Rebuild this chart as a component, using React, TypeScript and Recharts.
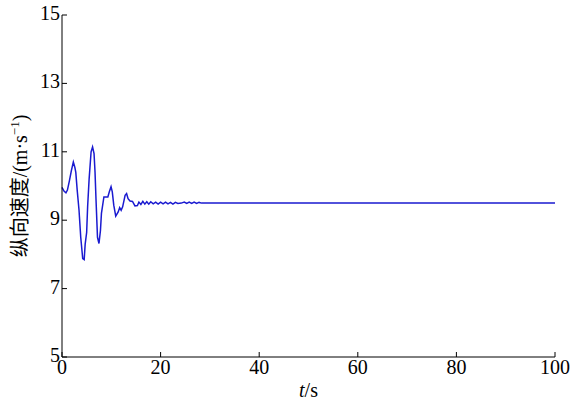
import React from "react";
import { LineChart, Line, XAxis, YAxis } from "recharts";

const timeSeconds: number[] = [
  0, 0.4, 0.8, 1.1, 1.5, 1.9, 2.3, 2.6, 2.8, 3.1, 3.45, 3.8, 4.2, 4.5, 4.7, 5.0, 5.2, 5.5, 5.9, 6.2,
  6.5, 6.7, 6.9, 7.2, 7.5, 7.8, 8.0, 8.5, 9.3, 9.6, 9.95, 10.2, 10.5, 10.9, 11.4, 11.7, 12.0, 12.3,
  12.8, 13.1, 13.4, 13.8, 14.3, 14.8, 15.3, 15.6, 16.0, 16.4, 16.8, 17.2, 17.6, 18.0, 18.5, 19.0,
  19.5, 20.0, 20.5, 21.0, 21.5, 22.0, 22.5, 23.0, 23.5, 24.2, 24.8, 25.3, 25.8, 26.3, 26.8, 27.3,
  27.8, 28.3, 100,
];

const speedValues: number[] = [
  9.96, 9.85, 9.8, 9.88, 10.15, 10.45, 10.7, 10.55, 10.4, 9.85, 9.3, 8.5, 7.88, 7.85, 8.3, 8.64, 9.4,
  10.2, 11.0, 11.14, 10.95, 10.4, 9.6, 8.5, 8.32, 8.7, 9.2, 9.68, 9.68, 9.83, 9.98, 9.83, 9.44, 9.12,
  9.24, 9.37, 9.29, 9.39, 9.73, 9.78, 9.63, 9.56, 9.55, 9.42, 9.43, 9.53, 9.46, 9.55, 9.47, 9.54,
  9.47, 9.54, 9.48, 9.53, 9.47, 9.53, 9.48, 9.53, 9.48, 9.52, 9.47, 9.52, 9.49, 9.5, 9.53, 9.49,
  9.53, 9.49, 9.53, 9.49, 9.52, 9.5, 9.5,
];

const xTicks: number[] = [0, 20, 40, 60, 80, 100];
const yTicks: number[] = [5, 7, 9, 11, 13, 15];

const data = timeSeconds.map((t, i) => ({ t, v: speedValues[i] }));

const FONT = "'Liberation Serif', 'Times New Roman', serif";
const CJK = "'Liberation Serif', 'Noto Sans CJK SC', serif";

const XTick = (props: any) => {
  const { x, y, payload } = props;
  return (
    <g>
      <line x1={x} x2={x} y1={y} y2={y - 5} stroke="#000" strokeWidth={1} />
      <text x={x} y={y + 17} textAnchor="middle" fontFamily={FONT} fontSize={20} fill="#000">
        {payload.value}
      </text>
    </g>
  );
};

const YTick = (props: any) => {
  const { x, y, payload } = props;
  return (
    <g>
      <line x1={x} x2={x + 5} y1={y} y2={y} stroke="#000" strokeWidth={1} />
      <text x={x - 2} y={y + 5} textAnchor="end" fontFamily={FONT} fontSize={20} fill="#000">
        {payload.value}
      </text>
    </g>
  );
};

const YLabel = (props: any) => {
  const vb = props.viewBox || {};
  const cy = (vb.y ?? 15) + (vb.height ?? 342) / 2;
  const cx = 27;
  return (
    <text
      x={cx}
      y={cy}
      transform={`rotate(-90, ${cx}, ${cy})`}
      textAnchor="middle"
      fontFamily={CJK}
      fontSize={20}
      fill="#000"
    >
      纵向速度/(m·s
      <tspan dy={-8} fontSize={13}>
        −1
      </tspan>
      <tspan dy={8}>)</tspan>
    </text>
  );
};

const XLabel = (props: any) => {
  const vb = props.viewBox || {};
  const cx = (vb.x ?? 62) + (vb.width ?? 493) / 2;
  return (
    <text x={cx} y={397} textAnchor="middle" fontFamily={FONT} fontSize={20} fill="#000">
      <tspan fontStyle="italic">t</tspan>/s
    </text>
  );
};

export default function App() {
  return (
    <div style={{ position: "absolute", left: 0, top: 0, width: 573, height: 401, background: "#fff" }}>
      <LineChart width={573} height={401} data={data} margin={{ top: 15, right: 18, left: 0, bottom: 0 }}>
        <XAxis
          dataKey="t"
          type="number"
          domain={[0, 100]}
          ticks={xTicks}
          height={44}
          tickSize={0}
          tickMargin={0}
          tickLine={false}
          tick={<XTick />}
          axisLine={{ stroke: "#000", strokeWidth: 1 }}
          interval={0}
          label={<XLabel />}
        />
        <YAxis
          dataKey="v"
          type="number"
          domain={[5, 15]}
          ticks={yTicks}
          width={62}
          tickSize={0}
          tickMargin={0}
          tickLine={false}
          tick={<YTick />}
          axisLine={{ stroke: "#000", strokeWidth: 1 }}
          interval={0}
          allowDataOverflow
          label={<YLabel />}
        />
        <Line
          type="linear"
          dataKey="v"
          stroke="#1a1ad0"
          strokeWidth={1.5}
          dot={false}
          isAnimationActive={false}
        />
      </LineChart>
    </div>
  );
}
